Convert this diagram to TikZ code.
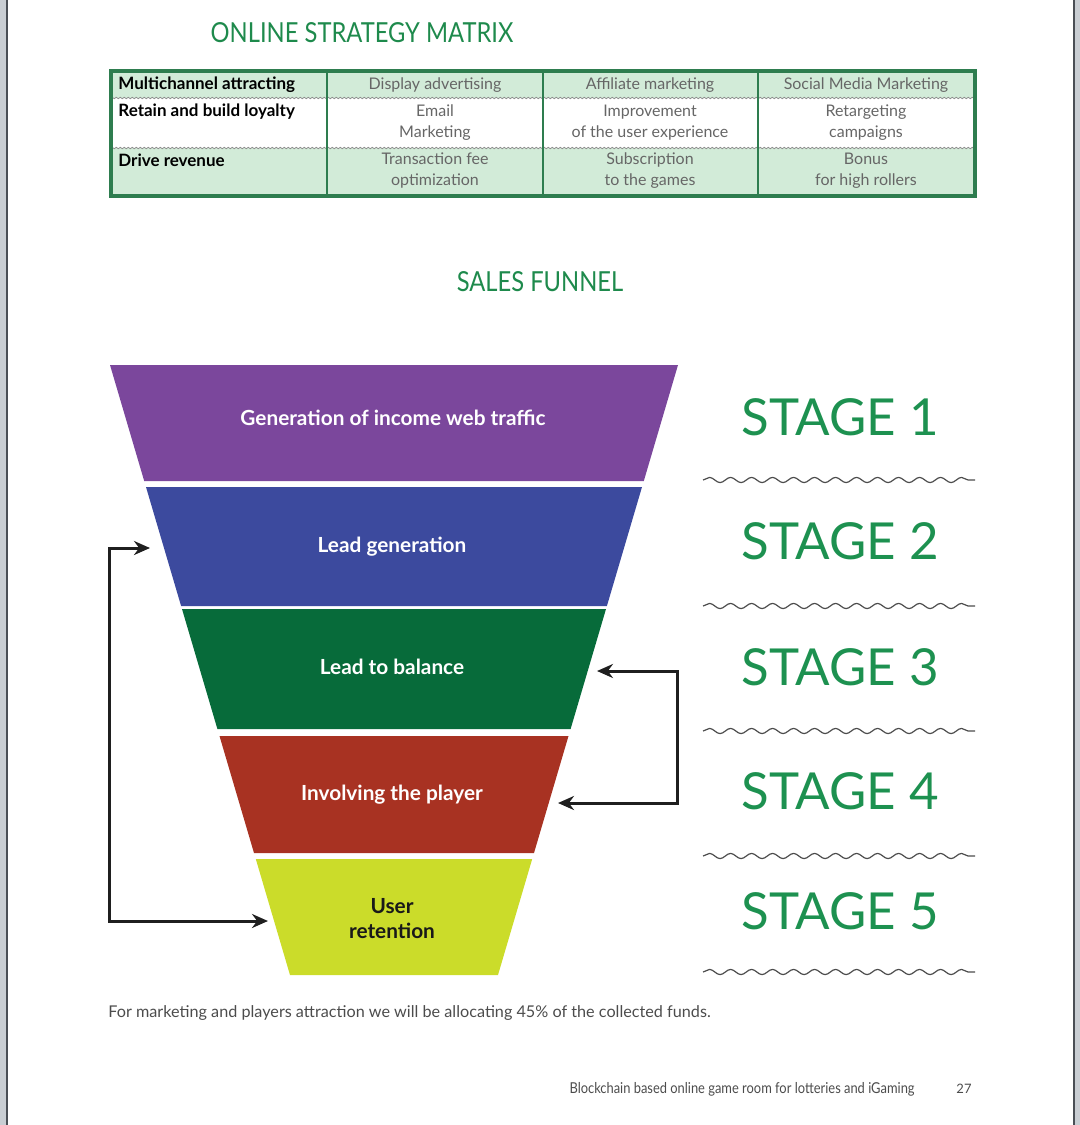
\documentclass[tikz,border=0pt]{standalone}
\usepackage{fontspec}
\setmainfont{Lato}
\newfontfamily\narrowfont[FakeStretch=0.86]{Lato}
\usetikzlibrary{arrows.meta,decorations.pathmorphing}
\definecolor{titlegreen}{HTML}{1E8A4C}
\definecolor{stagegreen}{HTML}{1D9150}
\definecolor{tabfill}{HTML}{D2EBD8}
\definecolor{tabborder}{HTML}{2E7D4F}
\definecolor{tpurple}{HTML}{7B479C}
\definecolor{tblue}{HTML}{3C4A9E}
\definecolor{tgreen}{HTML}{076B3A}
\definecolor{tred}{HTML}{A83222}
\definecolor{tyellow}{HTML}{CBDC2A}
\definecolor{pagegray}{HTML}{C9CED3}
\definecolor{edgegray}{HTML}{4A4F55}
\tikzset{
  maintitle/.style={font=\narrowfont\fontsize{13.8}{15}\selectfont, text=titlegreen, inner sep=0pt},
  rowhead/.style={font=\fontsize{8.5}{10}\selectfont\bfseries, text=black, anchor=west, inner sep=0pt},
  cell/.style={font=\fontsize{8}{10.5}\selectfont, text=black!60, align=center, inner sep=0pt},
  tierlabel/.style={font=\fontsize{10.4}{12.5}\selectfont\bfseries, text=white, align=center, inner sep=0pt},
  stagelabel/.style={font=\fontsize{25.5}{30}\selectfont, text=stagegreen, anchor=west, inner sep=0pt},
  wave/.style={draw=black!70, line width=0.6pt, decorate, decoration={snake, segment length=10.5pt, amplitude=1.3pt}},
  rowsep/.style={draw=black!45, line width=0.4pt, decorate, decoration={snake, segment length=2pt, amplitude=0.35pt}},
  bothloop/.style={draw=black!88, line width=1.5pt, {Stealth[length=8pt,width=7pt]}-{Stealth[length=8pt,width=7pt]}},
}
\begin{document}
\begin{tikzpicture}[x=0.5pt,y=-0.5pt]
\useasboundingbox (0,0) rectangle (1080,1125);
% page edges
\fill[pagegray] (0,0) rectangle (6,1125);
\fill[pagegray] (1074,0) rectangle (1080,1125);
\draw[edgegray, line width=1pt] (6.5,0) -- (6.5,1125);
\draw[edgegray, line width=1pt] (1073.5,0) -- (1073.5,1125);

% ---------- Online strategy matrix ----------
\node[maintitle] (title1) at (362,33) {ONLINE STRATEGY MATRIX};

\fill[tabfill] (111,71) rectangle (975,98);
\fill[tabfill] (111,148) rectangle (975,196);
\draw[rowsep] (111,98) -- (975,98);
\draw[rowsep] (111,148) -- (975,148);
\draw[tabborder, line width=1.3pt] (327,71) -- (327,196);
\draw[tabborder, line width=1.3pt] (543,71) -- (543,196);
\draw[tabborder, line width=1.3pt] (758,71) -- (758,196);
\draw[tabborder, line width=2pt] (111,71) rectangle (975,196);

\node[rowhead] (r1) at (118,85) {Multichannel attracting};
\node[rowhead] (r2) at (118,112) {Retain and build loyalty};
\node[rowhead] (r3) at (118,160) {Drive revenue};

\node[cell] (c11) at (435,85) {Display advertising};
\node[cell] (c12) at (650,85) {Affiliate marketing};
\node[cell] (c13) at (866,85) {Social Media Marketing};
\node[cell] (c21) at (435,123) {Email\\Marketing};
\node[cell] (c22) at (650,123) {Improvement\\of the user experience};
\node[cell] (c23) at (866,123) {Retargeting\\campaigns};
\node[cell] (c31) at (435,171) {Transaction fee\\optimization};
\node[cell] (c32) at (650,171) {Subscription\\to the games};
\node[cell] (c33) at (866,171) {Bonus\\for high rollers};

% ---------- Sales funnel ----------
\node[maintitle] (title2) at (540,282) {SALES FUNNEL};

\fill[tpurple] (110,365) -- (678,365) -- (643.8,481) -- (144.2,481) -- cycle;
\fill[tblue] (146,487) -- (642,487) -- (606.9,606) -- (181.1,606) -- cycle;
\fill[tgreen] (182,609) -- (606,609) -- (570.6,729) -- (217.4,729) -- cycle;
\fill[tred] (219.5,736) -- (568.5,736) -- (534,853) -- (254,853) -- cycle;
\fill[tyellow] (255.8,859) -- (532.2,859) -- (498,975) -- (290,975) -- cycle;

\node[tierlabel] (t1) at (393,418) {Generation of income web traffic};
\node[tierlabel] (t2) at (392,547) {Lead generation};
\node[tierlabel] (t3) at (392,667) {Lead to balance};
\node[tierlabel] (t4) at (392,795) {Involving the player};
\node[tierlabel, text=black!90] (t5) at (392,919) {User\\retention};

% stages
\node[stagelabel] (s1) at (741,417) {STAGE 1};
\node[stagelabel] (s2) at (741,541) {STAGE 2};
\node[stagelabel] (s3) at (741,667) {STAGE 3};
\node[stagelabel] (s4) at (741,791) {STAGE 4};
\node[stagelabel] (s5) at (741,911) {STAGE 5};
\draw[wave] (703,480) -- (975,480);
\draw[wave] (703,606) -- (975,606);
\draw[wave] (703,731) -- (975,731);
\draw[wave] (703,856) -- (975,856);
\draw[wave] (703,972) -- (975,972);

% feedback loops
\coordinate (in2) at (150,548);
\coordinate (in5) at (268,921);
\coordinate (leftx) at (109,0);
\draw[bothloop] (in2) -- (in2 -| leftx) -- (in5 -| leftx) -- (in5);

\coordinate (in3) at (597,671);
\coordinate (in4) at (558,803);
\coordinate (rightx) at (677,0);
\draw[bothloop] (in3) -- (in3 -| rightx) -- (in4 -| rightx) -- (in4);

% footer
\node[font=\fontsize{8.1}{9}\selectfont, text=black!70, anchor=west, inner sep=0pt] (note) at (108,1013) {For marketing and players attraction we will be allocating 45\% of the collected funds.};
\node[font=\narrowfont\fontsize{7.5}{8}\selectfont, text=black!70, anchor=east, inner sep=0pt] (foot) at (915,1089) {Blockchain based online game room for lotteries and iGaming};
\node[font=\fontsize{6.5}{7}\selectfont, text=black!70, inner sep=0pt] (page) at (964,1089) {27};
\end{tikzpicture}
\end{document}
